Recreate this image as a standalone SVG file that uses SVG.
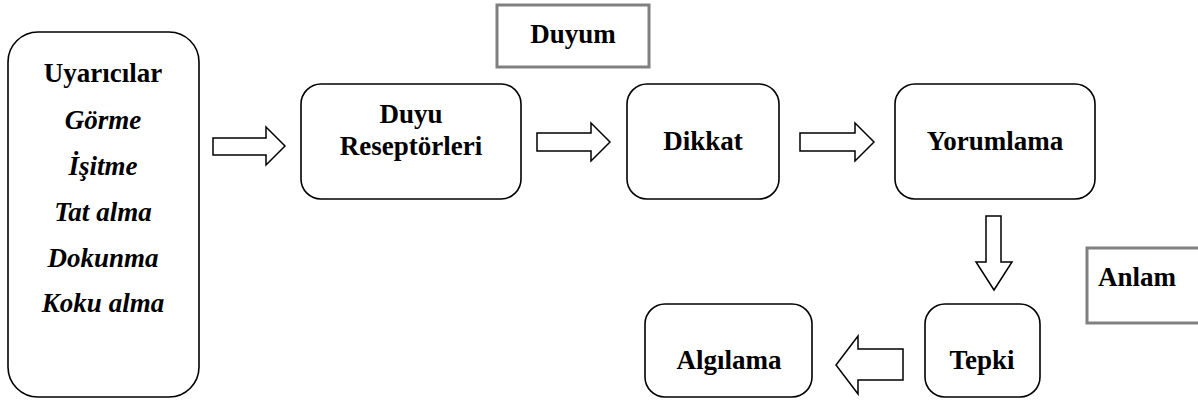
<svg xmlns="http://www.w3.org/2000/svg" width="1198" height="415" viewBox="0 0 1198 415">
<style>
.node{fill:#fff;stroke:#000;stroke-width:1.6}
.lbl{fill:#fff;stroke:#808080;stroke-width:3}
.arr{fill:#fff;stroke:#000;stroke-width:1.5;stroke-linejoin:miter}
text{font-family:"Liberation Serif","Times New Roman",serif;font-weight:bold;font-size:27px;text-anchor:middle;fill:#000}
.it{font-style:italic}
</style>
<rect width="1198" height="415" fill="#fff"/>
<g id="uyaricilar">
<rect class="node" x="8" y="32" width="191" height="365" rx="30"/>
<text x="103" y="82">Uyarıcılar</text>
<text class="it" x="103" y="129">Görme</text>
<text class="it" x="103" y="175">İşitme</text>
<text class="it" x="103" y="221">Tat alma</text>
<text class="it" x="103" y="267">Dokunma</text>
<text class="it" x="103" y="312">Koku alma</text>
</g>
<g id="duyum">
<rect class="lbl" x="497" y="5" width="152" height="62"/>
<text x="573" y="43">Duyum</text>
</g>
<g id="duyu-reseptorleri">
<rect class="node" x="301" y="84" width="220" height="115" rx="20"/>
<text x="411" y="123">Duyu</text>
<text x="411" y="155">Reseptörleri</text>
</g>
<g id="dikkat">
<rect class="node" x="627" y="84" width="152" height="115" rx="20"/>
<text x="703" y="150">Dikkat</text>
</g>
<g id="yorumlama">
<rect class="node" x="895" y="84" width="200" height="115" rx="20"/>
<text x="995" y="150">Yorumlama</text>
</g>
<g id="anlam">
<rect class="lbl" x="1087" y="248" width="120" height="75"/>
<text x="1137" y="286">Anlam</text>
</g>
<g id="tepki">
<rect class="node" x="925" y="304" width="115" height="93" rx="20"/>
<text x="982" y="369">Tepki</text>
</g>
<g id="algilama">
<rect class="node" x="645" y="304" width="167" height="93" rx="20"/>
<text x="729" y="369">Algılama</text>
</g>
<g id="connectors">
<path class="arr" d="M213,138 H266 V127 L285,146 L266,165 V155 H213 Z"/>
<path class="arr" d="M537,133 H591 V123 L610,142 L591,161 V151 H537 Z"/>
<path class="arr" d="M800,133 H855 V123 L874,142 L855,161 V151 H800 Z"/>
<path class="arr" d="M986,216 H1001 V262 H1012 L994,290 L976,262 H986 Z"/>
<path class="arr" d="M903,349 H858 V336 L836,365 L858,394 V380 H903 Z"/>
</g>
</svg>
